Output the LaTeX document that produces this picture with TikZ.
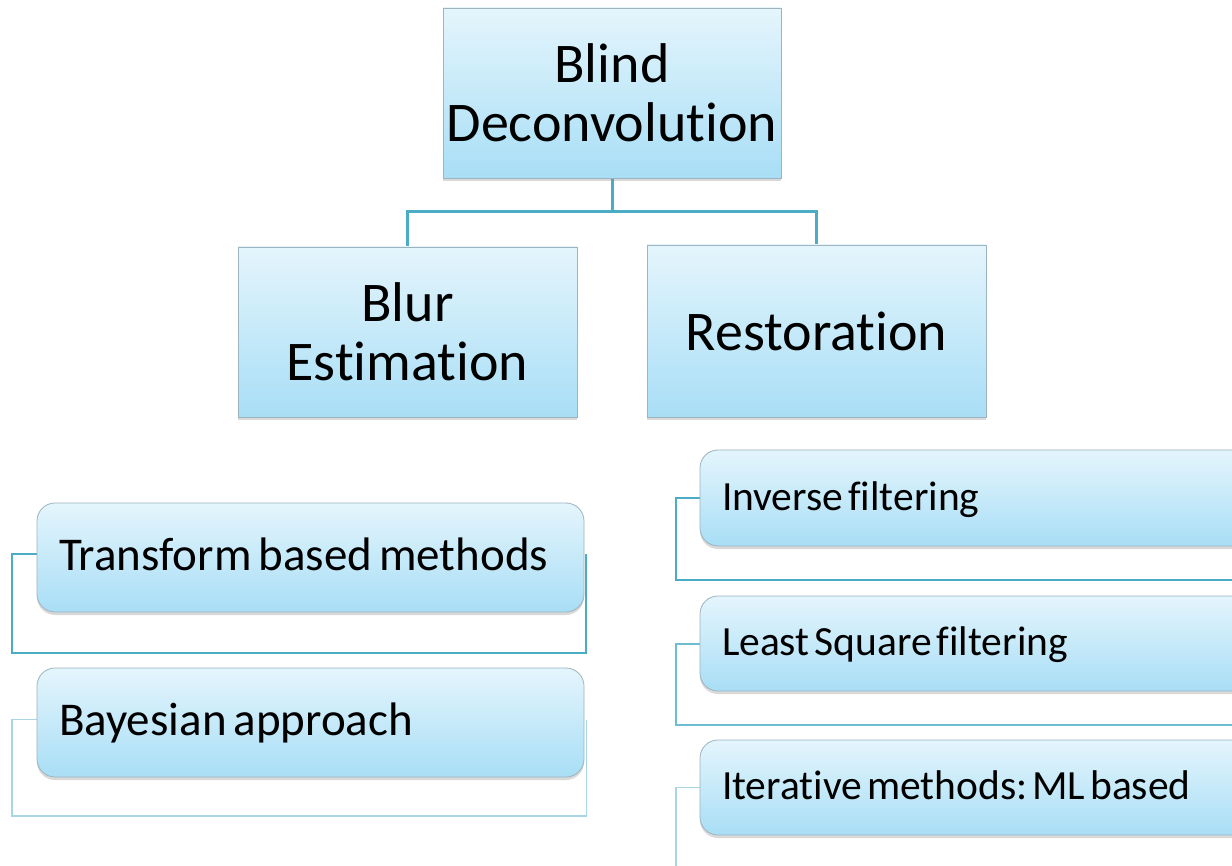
\documentclass[tikz,border=0pt]{standalone}
\usepackage{fontspec}
\setmainfont{Carlito}[RawFeature={-liga;-dlig;-clig}]
\usetikzlibrary{shadows,backgrounds,positioning}
\definecolor{boxtop}{HTML}{E4F5FC}
\definecolor{boxbot}{HTML}{A8DEF6}
\definecolor{boxline}{HTML}{9DB3BF}
\definecolor{link}{HTML}{4BACC6}
\definecolor{linklight}{HTML}{A9D6E3}
\newcommand{\tightwords}[1]{\frenchspacing\spaceskip=#1 plus 0pt minus 0pt\relax}
\tikzset{
  headbox/.style={rectangle, draw=boxline, line width=0.8pt,
    top color=boxtop, bottom color=boxbot,
    drop shadow={opacity=0.3, shadow xshift=0pt, shadow yshift=-3pt},
    font=\fontsize{56}{59}\selectfont, align=center, inner sep=0pt},
  itembox/.style={rectangle, rounded corners=18pt, draw=boxline, line width=0.8pt,
    top color=boxtop, bottom color=boxbot,
    drop shadow={opacity=0.3, shadow xshift=0pt, shadow yshift=-3pt},
    align=left, inner xsep=0pt, inner ysep=0pt,
    text height=33pt, text depth=8pt},
  bigitem/.style={itembox, font=\fontsize{47}{54}\selectfont,
    execute at begin node=\tightwords{7pt}},
  smallitem/.style={itembox, font=\fontsize{41.5}{50}\selectfont,
    execute at begin node=\tightwords{5pt}, text height=31pt, text depth=7pt},
  tree/.style={draw=link, line width=3pt},
  bracket/.style={draw=link, line width=2pt},
  bracketlight/.style={draw=linklight, line width=1.6pt}
}
\begin{document}
\begin{tikzpicture}[x=1pt,y=-1pt]
\useasboundingbox (0,0) rectangle (1232,866);
\clip (0,0) rectangle (1232,866);

% hierarchy boxes
\node[headbox, minimum width=338pt, minimum height=170pt] (root) at (612,93) {Blind\\Deconvolution};
\node[headbox, minimum width=339pt, minimum height=170pt] (blur) at (407.5,332) {Blur\\Estimation};
\node[headbox, minimum width=339pt, minimum height=172pt] (rest) at (816.5,331) {Restoration};

% list boxes under Blur Estimation
\node[bigitem, minimum width=547pt, minimum height=109pt, text width=503pt] (tbm) at (310.5,557.5) {Transform based methods};
\node[bigitem, minimum width=547pt, minimum height=109pt, text width=503pt] (bay) at (310.5,722.5) {Bayesian approach};

% list boxes under Restoration (running past the right edge)
\node[smallitem, minimum width=600pt, minimum height=96pt, text width=556pt] (inv) at (1000,498) {Inverse filtering};
\node[smallitem, minimum width=600pt, minimum height=95pt, text width=556pt] (lsq) at (1000,643.5) {Least Square filtering};
\node[smallitem, minimum width=600pt, minimum height=95pt, text width=556pt] (itm) at (1000,787.5) {Iterative methods: ML based};

% connector feet
\coordinate (tbmfoot) at (12,653);
\coordinate (bayfoot) at (12,816);
\coordinate (invfoot) at (676,580);
\coordinate (lsqfoot) at (676,725);
\coordinate (itmfoot) at (676,880);
\coordinate (fork) at (612,212);

\begin{scope}[on background layer]
  \draw[tree] (root.south) -- (fork) -| (blur.north);
  \draw[tree] (fork) -| (rest.north);
  \draw[bracket] ([yshift=4pt]tbm.west) -| (tbmfoot) -| ([xshift=2pt,yshift=4pt]tbm.east);
  \draw[bracketlight] ([yshift=3pt]bay.west) -| (bayfoot) -| ([xshift=2pt,yshift=3pt]bay.east);
  \draw[bracket] (inv.west) -| (invfoot) -- (1240,580);
  \draw[bracket, draw=link!80] (lsq.west) -| (lsqfoot) -- (1240,725);
  \draw[bracketlight] (itm.west) -| (itmfoot);
\end{scope}
\end{tikzpicture}
\end{document}
